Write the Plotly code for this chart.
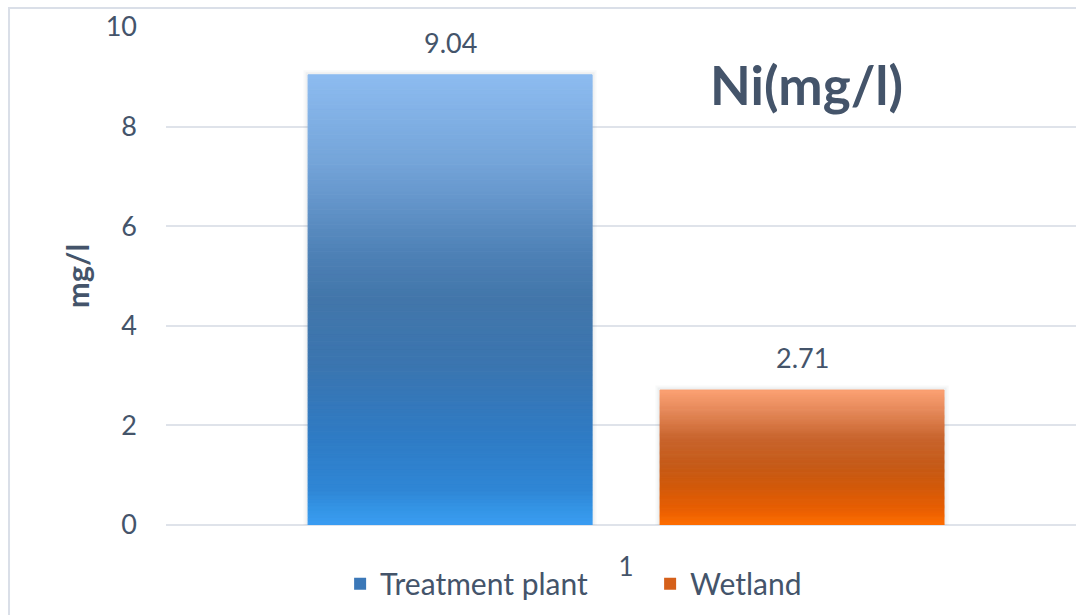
import plotly.graph_objects as go

# Nickel concentration by sampling site
categories = ["1"]
series_names = ["Treatment plant", "Wetland"]
treatment_plant = [9.04]
wetland = [2.71]
y_ticks = [0, 2, 4, 6, 8, 10]

TEXT = "#44546a"
GRID = "#dfe3ea"
FONT = "Lato"

X_RANGE = [-0.5, 0.489]
BARGAP = 0.235
PLOT_LEFT, PLOT_W = 166, 910

# Vertical gradient stops (fraction of bar height from the base, colour)
BLUE_STOPS = [
    (0.00, "#3a9cf2"), (0.03, "#3596e8"), (0.08, "#2f86d5"), (0.20, "#2f7bc4"),
    (0.35, "#3a75b0"), (0.50, "#4276aa"), (0.60, "#4d80b5"), (0.80, "#73a3d8"),
    (1.00, "#8dbcf0"),
]
ORANGE_STOPS = [
    (0.00, "#ff6e00"), (0.12, "#e85e02"), (0.30, "#d0590a"), (0.45, "#c55b19"),
    (0.65, "#c9652e"), (0.85, "#e5895a"), (1.00, "#fba072"),
]


def hex_to_rgb(h):
    h = h.lstrip("#")
    return tuple(int(h[i:i + 2], 16) for i in (0, 2, 4))


def color_at(stops, f):
    for (f0, c0), (f1, c1) in zip(stops, stops[1:]):
        if f <= f1:
            t = 0 if f1 == f0 else (f - f0) / (f1 - f0)
            a, b = hex_to_rgb(c0), hex_to_rgb(c1)
            r = [round(a[i] + (b[i] - a[i]) * t) for i in range(3)]
            return "rgb(%d,%d,%d)" % tuple(r)
    return stops[-1][1]


N_SLICES = 120


def shadow_bar(values, group, width, alpha):
    """Soft grey halo drawn behind a bar."""
    return go.Bar(
        x=categories, y=values, offsetgroup=group,
        marker=dict(color="white", line=dict(color=f"rgba(120,130,140,{alpha})", width=width)),
        showlegend=False, hoverinfo="skip",
    )


def gradient_bar(name, values, stops, group):
    """One bar made of stacked slices so the fill shades vertically."""
    xs, ys, bases, cols = [], [], [], []
    for cat, v in zip(categories, values):
        step = v / N_SLICES
        for k in range(N_SLICES):
            xs.append(cat)
            ys.append(step)
            bases.append(k * step)
            cols.append(color_at(stops, (k + 0.5) / N_SLICES))
    return go.Bar(
        name=name, x=xs, y=ys, base=bases, offsetgroup=group,
        marker=dict(color=cols, line=dict(width=1, color=cols)),
        showlegend=False, hoverinfo="skip",
    )


fig = go.Figure()
series = [(treatment_plant, BLUE_STOPS, "tp"), (wetland, ORANGE_STOPS, "wl")]
for values, stops, grp in series:
    fig.add_trace(shadow_bar(values, grp, 9, 0.05))
    fig.add_trace(shadow_bar(values, grp, 5, 0.07))
for name, (values, stops, grp) in zip(series_names, series):
    fig.add_trace(gradient_bar(name, values, stops, grp))

# Legend entries
for name, col in zip(series_names, ["#3b78b8", "#d5601a"]):
    fig.add_trace(go.Scatter(
        x=[None], y=[None], mode="markers", name=name,
        marker=dict(symbol="square", size=16, color=col),
    ))

# Value labels above each bar (offset by half a group slot from the category centre)
px_per_unit = PLOT_W / (X_RANGE[1] - X_RANGE[0])
slot = (1 - BARGAP) / 2 * px_per_unit
annotations = []
for i, values in enumerate([treatment_plant, wetland]):
    for ci, v in enumerate(values):
        annotations.append(dict(
            x=ci, y=v, xref="x", yref="y", text=f"{v:.2f}", showarrow=False,
            xanchor="center", yanchor="bottom", xshift=(i - 0.5) * slot, yshift=14,
            font=dict(family=FONT, size=27, color=TEXT),
        ))
annotations.append(dict(
    text="<b>Ni(mg/l)</b>", xref="paper", yref="paper", x=0.704, y=0.884,
    xanchor="center", yanchor="middle", showarrow=False,
    font=dict(family=FONT, size=53, color=TEXT),
))

fig.update_layout(
    width=1076, height=615,
    margin=dict(l=PLOT_LEFT, r=0, t=27, b=90),
    paper_bgcolor="white", plot_bgcolor="white",
    barmode="group", bargap=BARGAP, bargroupgap=0.193,
    font=dict(family=FONT, size=26, color=TEXT),
    showlegend=True,
    legend=dict(
        orientation="h", x=0.532, xanchor="center", y=-0.118, yanchor="middle",
        font=dict(family=FONT, size=30, color=TEXT),
        itemsizing="constant", tracegroupgap=0, itemwidth=30,
        entrywidth=265, entrywidthmode="pixels",
        bgcolor="rgba(0,0,0,0)",
    ),
    xaxis=dict(
        type="category", range=X_RANGE, showgrid=False, showline=False,
        zeroline=False, ticks="", ticklabelstandoff=24,
        tickfont=dict(family=FONT, size=26, color=TEXT),
    ),
    yaxis=dict(
        range=[0, 10], tickvals=y_ticks, showgrid=True, gridcolor=GRID, gridwidth=2,
        zeroline=True, zerolinecolor=GRID, zerolinewidth=2, showline=False,
        ticks="", ticklabelstandoff=28,
        tickfont=dict(family=FONT, size=27, color=TEXT),
        title=dict(text="<b>mg/l</b>", font=dict(family=FONT, size=31, color=TEXT),
                   standoff=6),
    ),
    annotations=annotations,
    shapes=[dict(
        type="rect", xref="paper", yref="paper",
        x0=-0.1725, x1=1.05, y0=-0.5, y1=1.038,
        line=dict(color="#dadfe8", width=2), fillcolor="rgba(0,0,0,0)", layer="below",
    )],
)

fig.write_html("out.html")
